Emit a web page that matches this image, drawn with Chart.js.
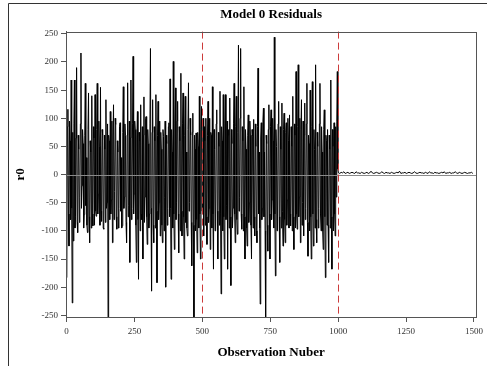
<!DOCTYPE html>
<html>
<head>
<meta charset="utf-8">
<title>Model 0 Residuals</title>
<script src="https://cdn.jsdelivr.net/npm/chart.js@4"></script>
<style>
  html, body { margin: 0; padding: 0; background: #fff; }
  #wrap { width: 487px; height: 366px; }
</style>
</head>
<body>
<div id="wrap"><canvas id="residChart" width="487" height="366"></canvas></div>
<script>
const chartTitle = 'Model 0 Residuals';
const xTitle = 'Observation Nuber';
const yTitle = 'r0';
const xTicks = [0, 250, 500, 750, 1000, 1250, 1500];
const yTicks = [-250, -200, -150, -100, -50, 0, 50, 100, 150, 200, 250];
const refLines = [500, 1000];

// residuals: spikes at obs 1, 5, 9, ... up to obs 1000
const noisyStart = 1;
const noisyStep = 4;
const noisyResiduals = [
    -183, 116, -127, 60, 168, -228, -118, 168, -74, 190,
    -103, 45, -40, 216, -20, 55, -71, 162, 30, -103,
    145, -121, 40, 140, -91, 65, 142, -74, 162, -35,
    50, 155, -83, 70, -97, 45, 133, -50, -270, 60,
    112, -45, -121, 124, -30, 89, -97, 40, -60, 92,
    30, -91, 156, -40, 70, -121, 163, -55, -156, 168,
    -60, 210, -35, 80, -156, 112, -186, 60, 124, -80,
    -150, 138, -40, 103, -124, 55, -70, 224, -207, 133,
    -121, 60, 142, -192, 130, -50, -109, 45, -121, 68,
    -40, -200, 55, -60, 92, 170, -186, 40, 201, -133,
    154, -50, 130, -139, 60, 180, -109, 145, -150, 139,
    40, -109, 163, -50, 70, -162, 109, -265, 45, 74,
    -139, 50, 139, -150, 121, -40, -109, 60, 100, -124,
    130, -60, -133, 70, 156, -168, 45, -70, 115, -150,
    50, 148, -212, 60, 142, -150, 142, -55, -168, 80,
    136, -197, 55, -60, 162, -121, 139, -106, 230, -40,
    224, -97, 60, 156, -150, 45, -127, 106, -50, 70,
    -150, 68, 98, -109, 50, -121, 189, 40, -230, 92,
    -60, 118, 40, -265, 55, -136, 124, -150, 115, -45,
    60, 244, -180, 50, -70, 130, -156, 45, 127, -127,
    109, -121, 92, -45, 60, 106, -91, 50, 139, -133,
    70, 183, -97, 195, -40, -121, 133, -50, -109, 127,
    -60, 162, -145, 55, 150, -150, 165, -127, 45, 195,
    -121, 50, -60, 162, -100, 40, -133, 115, -183, 60,
    80, -156, 45, 168, -168, 50, 92, -109, -40, 183
];

// the dense core band in between, at obs 3, 7, 11, ...
const midStart = 3;
const midStep = 4;
const midResiduals = [
    85, -70, 95, -80, -60, 75, 90, -95, 65, -85,
    70, -85, 90, -60, 80, -95, 70, -55, -90, 80,
    -75, 60, -95, -70, 85, -90, -65, 80, -70, 95,
    -90, -65, 80, -95, 70, -85, -60, 90, 70, -80,
    -70, 95, 65, -80, 100, -75, 60, -95, 85, -65,
    -95, 75, -60, 90, -85, 70, -75, 95, 65, -80,
    90, -70, 95, -90, 65, -80, 75, -100, -70, 85,
    70, -85, 100, -75, 80, -95, 90, -60, 75, -90,
    85, -95, -65, 70, -80, 95, 75, -90, 80, -100,
    95, 70, -90, 85, -75, -60, 80, -95, -70, 90,
    -80, 95, -70, 85, -100, -65, 90, -75, 70, -85,
    -95, 80, -65, 100, -85, 75, -90, 70, -100, -80,
    75, -95, -70, 80, -65, 100, 85, -90, -75, 70,
    -85, 100, 75, -95, -70, 80, -100, 90, -65, 75,
    -90, -70, 85, -100, -75, 90, -80, 95, 70, -95,
    -75, 80, -95, 90, -70, 85, -80, 75, -65, 100,
    -70, 85, -100, -75, 80, -95, 70, -85, 95, -90,
    80, -95, -75, 90, -100, 85, -70, -95, 65, -80,
    95, -75, -100, 70, -90, 80, -70, 85, -80, 100,
    -95, -70, 80, -100, 90, -75, 85, -95, -65, 80,
    -80, 75, -90, 100, -95, -70, 85, -100, -75, 90,
    -95, -70, 85, -75, 100, 80, -90, 95, 70, -80,
    90, -85, 70, -100, -75, 85, -70, 80, -95, -80,
    75, -95, 90, -70, 85, -100, 80, -75, 70, -90,
    -90, 70, -95, -75, 80, -100, -70, 85, 95, 10
];

// after obs 1000 the residuals sit just above zero
const quietStart = 1001;
const quietStep = 5;
const quietResiduals = [
    3, 2, 4, 3, 5, 2, 3, 4, 2, 3,
    4, 3, 2, 5, 3, 3, 2, 4, 3, 2,
    3, 4, 2, 3, 6, 3, 2, 3, 4, 3,
    2, 3, 5, 3, 2, 4, 3, 3, 2, 4,
    3, 2, 3, 4, 3, 6, 2, 3, 3, 4,
    2, 3, 4, 3, 2, 3, 5, 3, 2, 3,
    4, 3, 3, 2, 4, 3, 2, 5, 3, 3,
    2, 4, 3, 3, 2, 3, 4, 3, 5, 2,
    3, 3, 4, 2, 3, 3, 5, 3, 2, 4,
    3, 2, 3, 4, 3, 2, 3, 3, 4, 2
];

const points = [];
noisyResiduals.forEach((v, i) => {
    points.push({ x: noisyStart + i * noisyStep, y: v });
    points.push({ x: midStart + i * midStep, y: midResiduals[i] });
});
quietResiduals.forEach((v, i) => points.push({ x: quietStart + i * quietStep, y: v }));

const serif = 'Liberation Serif, Times New Roman, serif';

// zero line, red reference lines, plot frame and the outer border
const framePlugin = {
    id: 'frame',
    afterDatasetsDraw(chart) {
        const { ctx, chartArea: a, scales: { x, y } } = chart;
        ctx.save();
        ctx.lineWidth = 1;

        const y0 = Math.round(y.getPixelForValue(0)) + 0.5;
        ctx.strokeStyle = '#8a8a8a';
        ctx.beginPath();
        ctx.moveTo(a.left, y0);
        ctx.lineTo(a.right, y0);
        ctx.stroke();

        ctx.strokeStyle = '#cc3b3b';
        ctx.setLineDash([7, 4]);
        refLines.forEach(v => {
            const px = Math.round(x.getPixelForValue(v)) + 0.5;
            ctx.beginPath();
            ctx.moveTo(px, a.top);
            ctx.lineTo(px, a.bottom);
            ctx.stroke();
        });
        ctx.setLineDash([]);

        ctx.strokeStyle = '#555';
        ctx.strokeRect(Math.round(a.left) + 0.5, Math.round(a.top) + 0.5,
            Math.round(a.right - a.left), Math.round(a.bottom - a.top));

        ctx.strokeStyle = '#333';
        ctx.beginPath();
        ctx.moveTo(8.5, chart.height);
        ctx.lineTo(8.5, 3.5);
        ctx.lineTo(chart.width, 3.5);
        ctx.stroke();
        ctx.restore();
    }
};

new Chart(document.getElementById('residChart'), {
    type: 'line',
    data: {
        datasets: [{
            label: yTitle,
            data: points,
            borderColor: '#000',
            borderWidth: 1,
            pointRadius: 0,
            tension: 0,
            fill: false
        }]
    },
    options: {
        responsive: false,
        animation: false,
        devicePixelRatio: 1,
        layout: { padding: { left: 10, right: 8, top: 0, bottom: 0 } },
        plugins: {
            legend: { display: false },
            tooltip: { enabled: false },
            title: {
                display: true,
                text: chartTitle,
                fullSize: false,
                color: '#000',
                font: { family: serif, size: 13, weight: 'bold' },
                padding: { top: 7, bottom: 9 }
            }
        },
        scales: {
            x: {
                type: 'linear',
                min: -2,
                max: 1508,
                afterBuildTicks: s => { s.ticks = xTicks.map(v => ({ value: v })); },
                afterFit: s => { s.height = 49; },
                grid: { drawOnChartArea: false, drawTicks: true, tickLength: 5, tickColor: '#555' },
                border: { display: true, color: '#555' },
                ticks: {
                    color: '#333', font: { family: serif, size: 9 }, padding: 4,
                    maxRotation: 0, autoSkip: false, callback: v => String(v)
                },
                title: {
                    display: true,
                    text: xTitle,
                    color: '#000',
                    font: { family: serif, size: 13, weight: 'bold' },
                    padding: { top: 0, bottom: 6 }
                }
            },
            y: {
                type: 'linear',
                min: -253,
                max: 254,
                afterBuildTicks: s => { s.ticks = yTicks.map(v => ({ value: v })); },
                afterFit: s => { s.width = 56; },
                grid: { drawOnChartArea: false, drawTicks: true, tickLength: 5, tickColor: '#555' },
                border: { display: true, color: '#555' },
                ticks: { color: '#333', font: { family: serif, size: 9 }, padding: 3, callback: v => String(v) },
                title: {
                    display: true,
                    text: yTitle,
                    color: '#000',
                    font: { family: serif, size: 13, weight: 'bold' },
                    padding: { top: 3, bottom: 0 }
                }
            }
        }
    },
    plugins: [framePlugin]
});
</script>
</body>
</html>
